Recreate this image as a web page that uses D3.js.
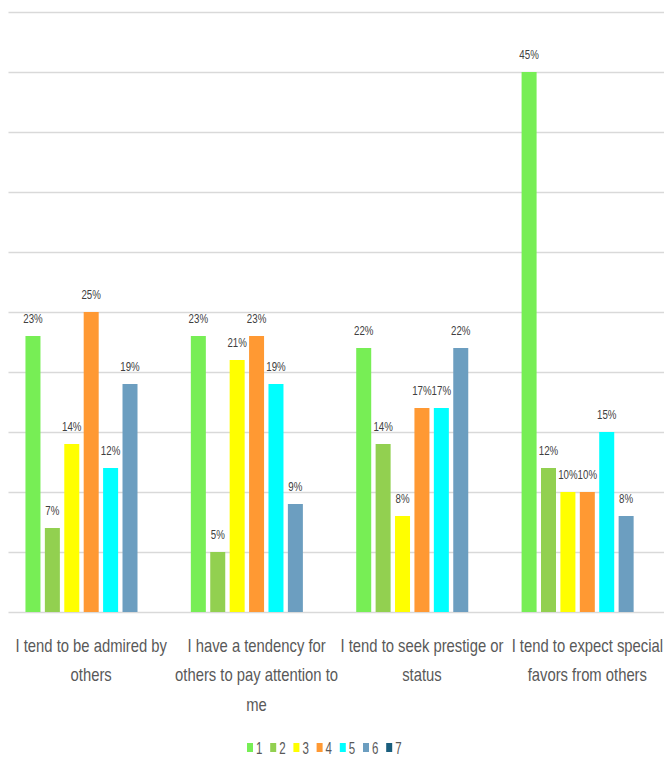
<!DOCTYPE html>
<html>
<head>
<meta charset="utf-8">
<script src="https://cdn.jsdelivr.net/npm/d3@7"></script>
<style>
  html, body { margin: 0; padding: 0; background: #ffffff; }
  svg { display: block; }
  text { font-family: "Liberation Sans", Arial, sans-serif; }
</style>
</head>
<body>
<svg id="chart" width="664" height="761"></svg>
<script>
// Survey items (x categories), each split into label lines
const categories = [
  "I tend to be admired by others",
  "I have a tendency for others to pay attention to me",
  "I tend to seek prestige or status",
  "I tend to expect special favors from others"
];
const categoryLines = [
  ["I tend to be admired by", "others"],
  ["I have a tendency for", "others to pay attention to", "me"],
  ["I tend to seek prestige or", "status"],
  ["I tend to expect special", "favors from others"]
];

// Response scale points (series)
const seriesNames = ["1", "2", "3", "4", "5", "6", "7"];
const seriesColors = ["#77EE55", "#92D050", "#FFFF00", "#FF9933", "#00FFFF", "#6C9EC0", "#1A5E7D"];

// Percentage of respondents per scale point, one array per series (null = no data)
const s1 = [23, 23, 22, 45];
const s2 = [7, 5, 14, 12];
const s3 = [14, 21, 8, 10];
const s4 = [25, 23, 17, 10];
const s5 = [12, 19, 17, 15];
const s6 = [19, 9, 22, 8];
const s7 = [null, null, null, null];
const seriesValues = [s1, s2, s3, s4, s5, s6, s7];

// Gridline ticks (percent)
const yTicks = [0, 5, 10, 15, 20, 25, 30, 35, 40, 45, 50];

const svg = d3.select("#chart");
const plot = { left: 8.5, right: 670, top: 12, bottom: 612 };

const y = d3.scaleLinear().domain([0, 50]).range([plot.bottom, plot.top]);
const x = d3.scaleBand().domain(categories).range([plot.left, plot.right]).padding(0);
const xs = d3.scaleBand().domain(seriesNames).range([0, x.bandwidth()])
  .paddingInner(0.227).paddingOuter(0.874);

// Horizontal gridlines
svg.append("g").selectAll("line").data(yTicks).join("line")
  .attr("x1", plot.left).attr("x2", 664)
  .attr("y1", d => Math.round(y(d)) + 0.5).attr("y2", d => Math.round(y(d)) + 0.5)
  .attr("stroke", "#D9D9D9").attr("stroke-width", 1.5);

// Flatten to bar records
const bars = [];
categories.forEach((c, ci) => {
  seriesNames.forEach((s, si) => {
    const v = seriesValues[si][ci];
    if (v != null) bars.push({ cat: c, series: s, si, value: v });
  });
});

const gBars = svg.append("g");
gBars.selectAll("rect").data(bars).join("rect")
  .attr("x", d => x(d.cat) + xs(d.series))
  .attr("y", d => y(d.value))
  .attr("width", xs.bandwidth())
  .attr("height", d => y(0) - y(d.value))
  .attr("fill", d => seriesColors[d.si]);

// Value labels above bars
const condense = 0.72;
gBars.selectAll("text").data(bars).join("text")
  .attr("transform", d => `translate(${x(d.cat) + xs(d.series) + xs.bandwidth() / 2},${y(d.value) - 13}) scale(${condense},1)`)
  .attr("text-anchor", "middle")
  .attr("font-size", 13.5)
  .attr("fill", "#404040")
  .text(d => d.value + "%");

// Category axis labels
const gCat = svg.append("g");
categories.forEach((c, ci) => {
  const cx = x(c) + x.bandwidth() / 2;
  categoryLines[ci].forEach((line, li) => {
    gCat.append("text")
      .attr("transform", `translate(${cx},${651.5 + li * 29.5}) scale(0.8,1)`)
      .attr("text-anchor", "middle")
      .attr("font-size", 18.5)
      .attr("fill", "#595959")
      .text(line);
  });
});

// Legend
const legend = svg.append("g").attr("transform", "translate(247,0)");
const item = legend.selectAll("g").data(seriesNames).join("g")
  .attr("transform", (d, i) => `translate(${i * 23.2},0)`);
item.append("rect").attr("x", 0).attr("y", 743).attr("width", 6).attr("height", 9)
  .attr("fill", (d, i) => seriesColors[i]);
item.append("text")
  .attr("transform", `translate(9,753.5) scale(${condense},1)`)
  .attr("font-size", 16).attr("fill", "#595959")
  .text(d => d);
</script>
</body>
</html>
